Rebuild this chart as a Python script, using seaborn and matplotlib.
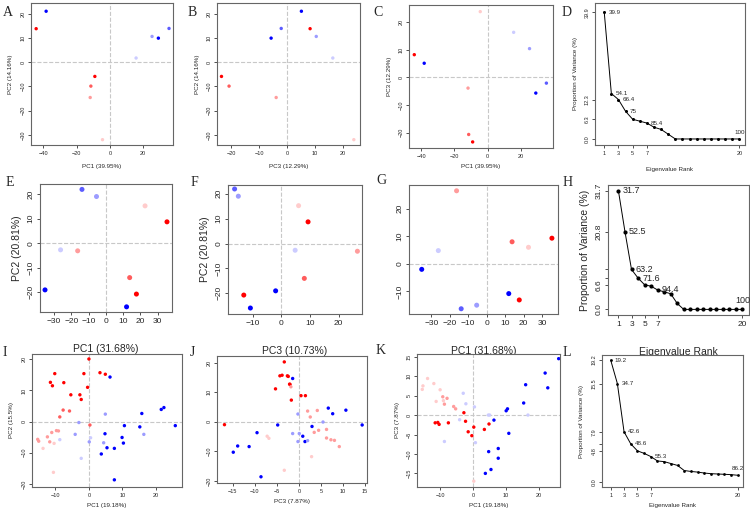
import matplotlib
matplotlib.use("Agg")
import matplotlib.pyplot as plt
import seaborn as sns
import pandas as pd

# ---------------- data ----------------
# row 1 (10 samples): PC scores
pc1_a = [-44.3, -38.3, -4.4, 15.8, 25.4, 35.6, 29.2, -11.8, -11.4, -9.0]
pc2_a = [13.8, 21.0, -32.0, 1.7, 10.6, 13.9, 9.9, -14.6, -9.9, -5.9]
pc3_a = [8.2, 5.1, 23.8, 16.3, 10.4, -2.1, -5.7, -3.9, -20.7, -23.4]
shade_a = ["r1", "b1", "r4", "b4", "b3", "b2", "b1", "r3", "r2", "r1"]

# row 2 (10 samples)
pc1_b = [-13.8, -5.4, 22.7, 35.4, -26.2, -16.3, 13.8, 17.7, 12.0, -35.2]
pc2_b = [21.9, 19.0, 15.2, 8.7, -2.7, -3.1, -14.0, -20.7, -25.9, -19.0]
pc3_b = [-16.3, -15.0, 6.0, 9.3, 4.8, 26.5, 8.0, -13.1, -10.8, -2.0]
shade_b = ["b2", "b3", "r4", "r1", "b4", "r3", "r2", "r1", "b1", "b1"]

# row 3, panel I (PC1 vs PC2)
i_x = [0.0, -10.2, -11.5, -10.9, -7.5, -1.5, 3.3, 4.9, -0.4, -5.4, -2.7, -2.3,
       0.3, -7.7, -5.8, -8.7,
       -11.1, -9.7, -9.1, -12.4, -15.3, -15.0, -11.7,
       -13.7, -10.4, -10.6,
       6.3, 22.4, 21.6, 15.8, 25.8, 15.2, 10.6, 4.8, 9.9, 10.3, 5.4, 7.6, 3.7, 7.6,
       16.4, 4.9, -3.0, -4.1, 0.1, 4.4,
       0.5, -2.3, -8.7]
i_y = [20.1, 15.4, 12.6, 11.5, 12.5, 15.4, 15.7, 15.2, 11.0, 8.6, 8.6, 7.1,
       -1.1, 3.7, 3.4, 1.5,
       -3.5, -2.9, -3.0, -4.9, -5.7, -6.3, -6.5,
       -8.6, -7.0, -16.3,
       14.3, 4.5, 3.9, 2.6, -1.3, -1.7, -1.3, -3.9, -5.1, -6.9, -8.4, -8.6, -10.4, -18.7,
       -4.1, 2.4, -0.3, -4.1, -6.5, -6.8,
       -5.2, -11.8, -5.8]
i_shade = ["r1"] * 12 + ["r2"] * 4 + ["r3"] * 7 + ["r4"] * 3 + ["b1"] * 14 + ["b3"] * 6 + ["b4"] * 3

# panel J (PC3 vs PC2)
j_x = [-3.3, -4.3, -3.8, -2.6, -2.4, -2.1, -2.0, -5.3, 0.5, 1.5, -1.7, -16.9,
       -1.8, 2.0, 4.2, 2.6, 4.5, 3.5, 6.3, 6.3, 7.3, 8.1, 9.2,
       2.9, -3.3, -7.2, -6.8,
       -1.4, 6.7, 7.7, 10.7, 14.4, 3.0, -4.8, 0.9, 1.4, -9.5, -13.9, -14.9, -11.3, -8.6,
       -0.2, -1.4, 0.1, -0.2, 2.0, 5.5]
j_y = [20.2, 15.5, 15.7, 15.5, 15.3, 12.7, 12.6, 11.1, 8.8, 8.8, 7.3, -1.0,
       11.8, 3.6, 3.8, 1.6, -2.9, -3.6, -2.6, -5.5, -6.1, -6.3, -8.4,
       -11.8, -16.4, -4.9, -5.6,
       14.6, 4.6, 2.7, 3.9, -1.1, -1.6, -1.1, -4.9, -6.7, -3.7, -8.2, -10.3, -8.4, -18.6,
       2.6, -4.0, -4.0, -6.7, -6.4, -0.1]
j_shade = ["r1"] * 12 + ["r3"] * 11 + ["r4"] * 4 + ["b1"] * 14 + ["b3"] * 6

# panel K (PC1 vs PC3)
k_x = [-13.8, -11.9, -15.2, -15.4, -10.0, -11.2, -9.0,
       -9.2, -7.9, -8.7, -5.9, -5.3,
       -2.8, -11.5, -10.7, -10.3, -7.5, -2.3, -1.5, -0.4, 0.2, 3.4, 4.8,
       0.2,
       25.9, 21.8, 22.6, 15.9, 15.3, 10.4, 10.0, 6.3, 10.8, 4.7, 7.6, 7.6, 5.4, 3.7,
       -3.0, -2.2, 0.4, 4.6, 5.0, 16.6, -4.1, -8.7, 0.7]
k_y = [9.4, 8.1, 7.5, 6.6, 6.5, 3.5, 3.7,
       4.7, 4.3, 2.8, 2.2, 1.6,
       0.6, -2.0, -1.9, -2.4, -2.0, -1.6, -4.3, -5.3, -3.1, -3.7, -2.3,
       -17.0,
       14.5, 10.8, 7.0, 7.8, 3.1, 1.6, 1.1, -1.3, -4.7, -9.4, -8.6, -11.1, -14.0, -15.0,
       5.6, 2.9, 2.1, 0.0, 0.0, 0.0, -1.2, -6.8, -7.1]
k_shade = ["r4"] * 7 + ["r3"] * 5 + ["r1"] * 11 + ["r4"] + ["b1"] * 14 + ["b4"] * 9

# scree data (proportion of variance per eigenvalue rank)
ranks = list(range(1, 21))
var_d = [39.9, 14.3, 12.4, 8.7, 6.2, 5.6, 5.0, 3.7, 3.0, 1.5] + [0.0] * 10
var_h = [31.7, 20.8, 10.7, 8.4, 6.6, 6.2, 5.2, 4.7, 4.2, 1.6] + [0.0] * 10
var_l = [19.2, 15.5, 7.9, 6.0, 4.9, 4.5, 4.0, 3.3, 3.2, 2.9,
         2.6, 1.8, 1.65, 1.55, 1.4, 1.3, 1.25, 1.2, 1.15, 1.05]
label_ranks = [1, 2, 3, 4, 7, 20]
cum_d = ["39.9", "54.1", "66.4", "75", "85.4", "100"]
cum_h = ["31.7", "52.5", "63.2", "71.6", "94.4", "100"]
cum_l = ["19.2", "34.7", "42.6", "48.6", "55.3", "86.2"]

palette = {"r1": "#ff0000", "r2": "#ff5c5c", "r3": "#ff9c9c", "r4": "#ffcccc",
           "b1": "#0000ff", "b2": "#5c5cff", "b3": "#9c9cff", "b4": "#ccccff"}

# ---------------- drawing ----------------
sns.set_style("ticks")
plt.rcParams["font.family"] = ["Liberation Sans", "DejaVu Sans"]

fig = plt.figure(figsize=(7.5, 5.08), dpi=100)


def add_ax(x1, y1, x2, y2):
    return fig.add_axes([x1 / 750, 1 - y2 / 508, (x2 - x1) / 750, (y2 - y1) / 508])


def frame(ax, fs, xlabel, ylabel, lfs, xpad, ypad):
    for s in ax.spines.values():
        s.set_visible(True)
        s.set_color("#666666")
        s.set_linewidth(0.8)
    ax.tick_params(labelsize=fs, length=2.5, width=0.6, pad=1.5, color="#333333")
    ax.tick_params(axis="y", labelrotation=90)
    for t in ax.get_yticklabels():
        t.set_va("center")
    ax.set_xlabel(xlabel, fontsize=lfs, labelpad=xpad)
    ax.set_ylabel(ylabel, fontsize=lfs, labelpad=ypad)


def scatter(ax, x, y, shade, xlim, ylim, xticks, yticks, s):
    df = pd.DataFrame({"x": x, "y": y, "shade": shade})
    ax.axhline(0, color="#c8c8c8", ls="--", lw=0.8, zorder=0)
    ax.axvline(0, color="#c8c8c8", ls="--", lw=0.8, zorder=0)
    sns.scatterplot(data=df, x="x", y="y", hue="shade", palette=palette, s=s,
                    linewidth=0, legend=False, ax=ax)
    ax.set_xlim(xlim)
    ax.set_ylim(ylim)
    ax.set_xticks(xticks)
    ax.set_yticks(yticks)


def scree(ax, var, labels, yticks, yticklabels, ylim, xlim, fs, ms):
    df = pd.DataFrame({"rank": ranks, "var": var})
    sns.lineplot(data=df, x="rank", y="var", color="black", lw=0.7, marker="o",
                 markersize=ms, markeredgewidth=0, ax=ax)
    for r, lab in zip(label_ranks, labels):
        if r == 20:
            ax.annotate(lab, (r, var[r - 1]), xytext=(0, 3), textcoords="offset points",
                        ha="center", va="bottom", fontsize=fs)
        else:
            ax.annotate(lab, (r, var[r - 1]), xytext=(3, 0), textcoords="offset points",
                        ha="left", va="center", fontsize=fs)
    ax.set_xticks([1, 3, 5, 7, 20])
    ax.set_yticks(yticks)
    ax.set_yticklabels(yticklabels)
    ax.set_xlim(xlim)
    ax.set_ylim(ylim)


# row 1
axA = add_ax(31, 3, 173, 145)
scatter(axA, pc1_a, pc2_a, shade_a, (-47.4, 38), (-34.2, 24.4), [-40, -20, 0, 20], [20, 10, 0, -10, -20, -30], 6)
frame(axA, 4, "PC1 (39.95%)", "PC2 (14.16%)", 4.5, 6, 5)

axB = add_ax(217, 3, 360, 145)
scatter(axB, pc3_a, pc2_a, shade_a, (-25, 26), (-34.2, 24.4), [-20, -10, 0, 10, 20], [20, 10, 0, -10, -20, -30], 6)
frame(axB, 4, "PC3 (12.29%)", "PC2 (14.16%)", 4.5, 6, 5)

axC = add_ax(409, 5, 553, 148)
scatter(axC, pc1_a, pc3_a, shade_a, (-47.5, 39.6), (-25.6, 26.2), [-40, -20, 0, 20], [20, 10, 0, -10, -20], 6)
frame(axC, 4, "PC1 (39.95%)", "PC3 (12.29%)", 4.5, 4, 5)

axD = add_ax(595, 3, 745, 145)
scree(axD, var_d, cum_d, [0.0, 6.3, 12.3, 39.9], ["0.0", "6.3", "12.3", "39.9"], (-1.9, 42.8), (-0.3, 20.8), 4.5, 2.2)
frame(axD, 4, "Eigenvalue Rank", "Proportion of Variance (%)", 4.5, 8, 5)

# row 2
axE = add_ax(40, 184, 172, 312)
scatter(axE, pc1_b, pc2_b, shade_b, (-38.1, 38.3), (-28, 24.1), [-30, -20, -10, 0, 10, 20, 30], [20, 10, 0, -10, -20], 13)
frame(axE, 6, "PC1 (31.68%)", "PC2 (20.81%)", 7.5, 14, 4)

axF = add_ax(228, 185, 362, 314)
scatter(axF, pc3_b, pc2_b, shade_b, (-18.6, 28.1), (-28.3, 23.5), [-10, 0, 10, 20], [20, 10, 0, -10, -20], 13)
frame(axF, 6, "PC3 (10.73%)", "PC2 (20.81%)", 7.5, 14, 4)

axG = add_ax(409, 185, 558, 314)
scatter(axG, pc1_b, pc3_b, shade_b, (-42.1, 38.7), (-18.2, 28.6), [-30, -20, -10, 0, 10, 20, 30], [20, 10, 0, -10], 13)
frame(axG, 6, "PC1 (31.68%)", "", 7.5, 14, 4)

axH = add_ax(608, 185, 749, 315)
scree(axH, var_h, cum_h, [0.0, 6.6, 8.4, 10.7, 20.8, 31.7], ["0.0", "6.6", "", "", "20.8", "31.7"],
      (-1.5, 33.3), (-0.6, 21.0), 6.5, 3)
frame(axH, 6, "Eigenvalue Rank", "Proportion of Variance (%)", 7.5, 14, 4)

# row 3
axI = add_ax(32, 354, 182, 487)
scatter(axI, i_x, i_y, i_shade, (-17, 27.8), (-21, 21.7), [-10, 0, 10, 20], [20, 10, 0, -10, -20], 6)
frame(axI, 4, "PC1 (19.18%)", "PC2 (15.5%)", 4.5, 4, 5)

axJ = add_ax(217, 356, 367, 483)
scatter(axJ, j_x, j_y, j_shade, (-18.6, 15.5), (-20.7, 22.2), [-15, -10, -5, 0, 5, 10, 15], [20, 10, 0, -10, -20], 6)
frame(axJ, 4, "PC3 (7.87%)", "", 4.5, 4, 5)

axK = add_ax(417, 354, 560, 487)
scatter(axK, k_x, k_y, k_shade, (-17, 26.3), (-18.5, 15.7), [-10, 0, 10, 20], [15, 10, 5, 0, -5, -10, -15], 6)
frame(axK, 4, "PC1 (19.18%)", "PC3 (7.87%)", 4.5, 4, 5)

axL = add_ax(602, 355, 743, 487)
scree(axL, var_l, cum_l, [0.0, 4.8, 6.0, 7.9, 15.5, 19.2], ["0.0", "4.8", "", "7.9", "15.5", "19.2"],
      (-0.8, 20.0), (-0.3, 20.8), 4.5, 2)
frame(axL, 4, "Eigenvalue Rank", "Proportion of Variance (%)", 4.5, 4, 5)

# panel letters
letters = ["A", "B", "C", "D", "E", "F", "G", "H", "I", "J", "K", "L"]
letter_xy = [(3, 12), (188, 12), (373, 12), (562, 12), (6, 183), (191, 183), (376, 181), (563, 182),
             (3, 353), (190, 353), (376, 350), (563, 353)]
for lab, (px, py) in zip(letters, letter_xy):
    fig.text(px / 750, 1 - py / 508, lab, fontsize=10, family=["Liberation Serif", "DejaVu Serif"],
             va="center", ha="left")

fig.savefig("out.png", dpi=100)
